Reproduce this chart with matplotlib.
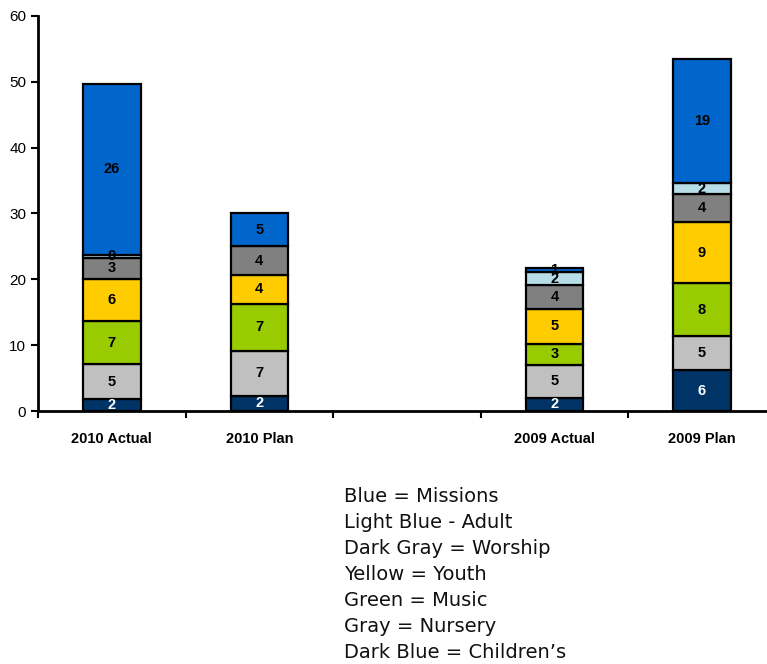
import numpy as np
import matplotlib.pyplot as plt

# categories (one empty slot between the 2010 and 2009 groups)
categories = ["2010 Actual", "2010 Plan", "", "2009 Actual", "2009 Plan"]

# stacked segments, bottom to top
childrens = [1.8, 2.3, 0, 2.0, 6.2]
nursery = [5.3, 6.8, 0, 5.0, 5.2]
music = [6.6, 7.2, 0, 3.2, 8.0]
youth = [6.4, 4.4, 0, 5.3, 9.3]
worship = [3.2, 4.3, 0, 3.6, 4.2]
adult = [0.4, 0.0, 0, 2.0, 1.7]
missions = [26.0, 5.0, 0, 0.6, 18.8]

series = [childrens, nursery, music, youth, worship, adult, missions]
colors = ["#003366", "#C0C0C0", "#99CC00", "#FFCC00", "#808080", "#B7DEE8", "#0066CC"]
label_colors = ["white", "black", "black", "black", "black", "black", "black"]

legend_lines = [
    "Blue = Missions",
    "Light Blue - Adult",
    "Dark Gray = Worship",
    "Yellow = Youth",
    "Green = Music",
    "Gray = Nursery",
    "Dark Blue = Children\u2019s",
]

fig = plt.figure(figsize=(7.67, 6.64), dpi=100)
ax = fig.add_axes([0.0495, 0.381, 0.962, 0.595])

x = np.arange(len(categories))
bottom = np.zeros(len(categories))
for vals, col, lcol in zip(series, colors, label_colors):
    vals = np.array(vals, dtype=float)
    mask = vals > 0
    ax.bar(x[mask], vals[mask], width=0.39, bottom=bottom[mask], color=col,
           edgecolor="black", linewidth=1.6, zorder=2)
    for xi, v, b in zip(x[mask], vals[mask], bottom[mask]):
        ax.text(xi, b + v / 2, f"{v:.0f}", ha="center", va="center", color=lcol,
                fontsize=10.5, fontweight="bold", family="Liberation Sans", zorder=3)
    bottom += vals

ax.set_xlim(-0.5, len(categories) - 0.5)
ax.set_ylim(0, 60)
ax.set_yticks(range(0, 61, 10))
ax.set_xticks(x)
ax.set_xticklabels(categories, fontsize=10.5, fontweight="bold", family="Liberation Sans")
ax.set_xticks(np.arange(-0.5, len(categories), 1), minor=True)
ax.tick_params(axis="x", which="major", length=0, pad=15)
ax.tick_params(axis="x", which="minor", length=5, width=1.5, direction="out")
ax.tick_params(axis="y", length=5, width=1.5, direction="out", labelsize=11)
for lbl in ax.get_yticklabels():
    lbl.set_family("Liberation Sans")
for s in ["top", "right"]:
    ax.spines[s].set_visible(False)
ax.spines["left"].set_linewidth(2)
ax.spines["bottom"].set_linewidth(2)

for i, line in enumerate(legend_lines):
    fig.text(344 / 767, 1 - (496 + 26 * i) / 664, line, ha="left", va="center",
             fontsize=14, family="DejaVu Sans", color="#111111")

fig.savefig("out.png", dpi=100)
